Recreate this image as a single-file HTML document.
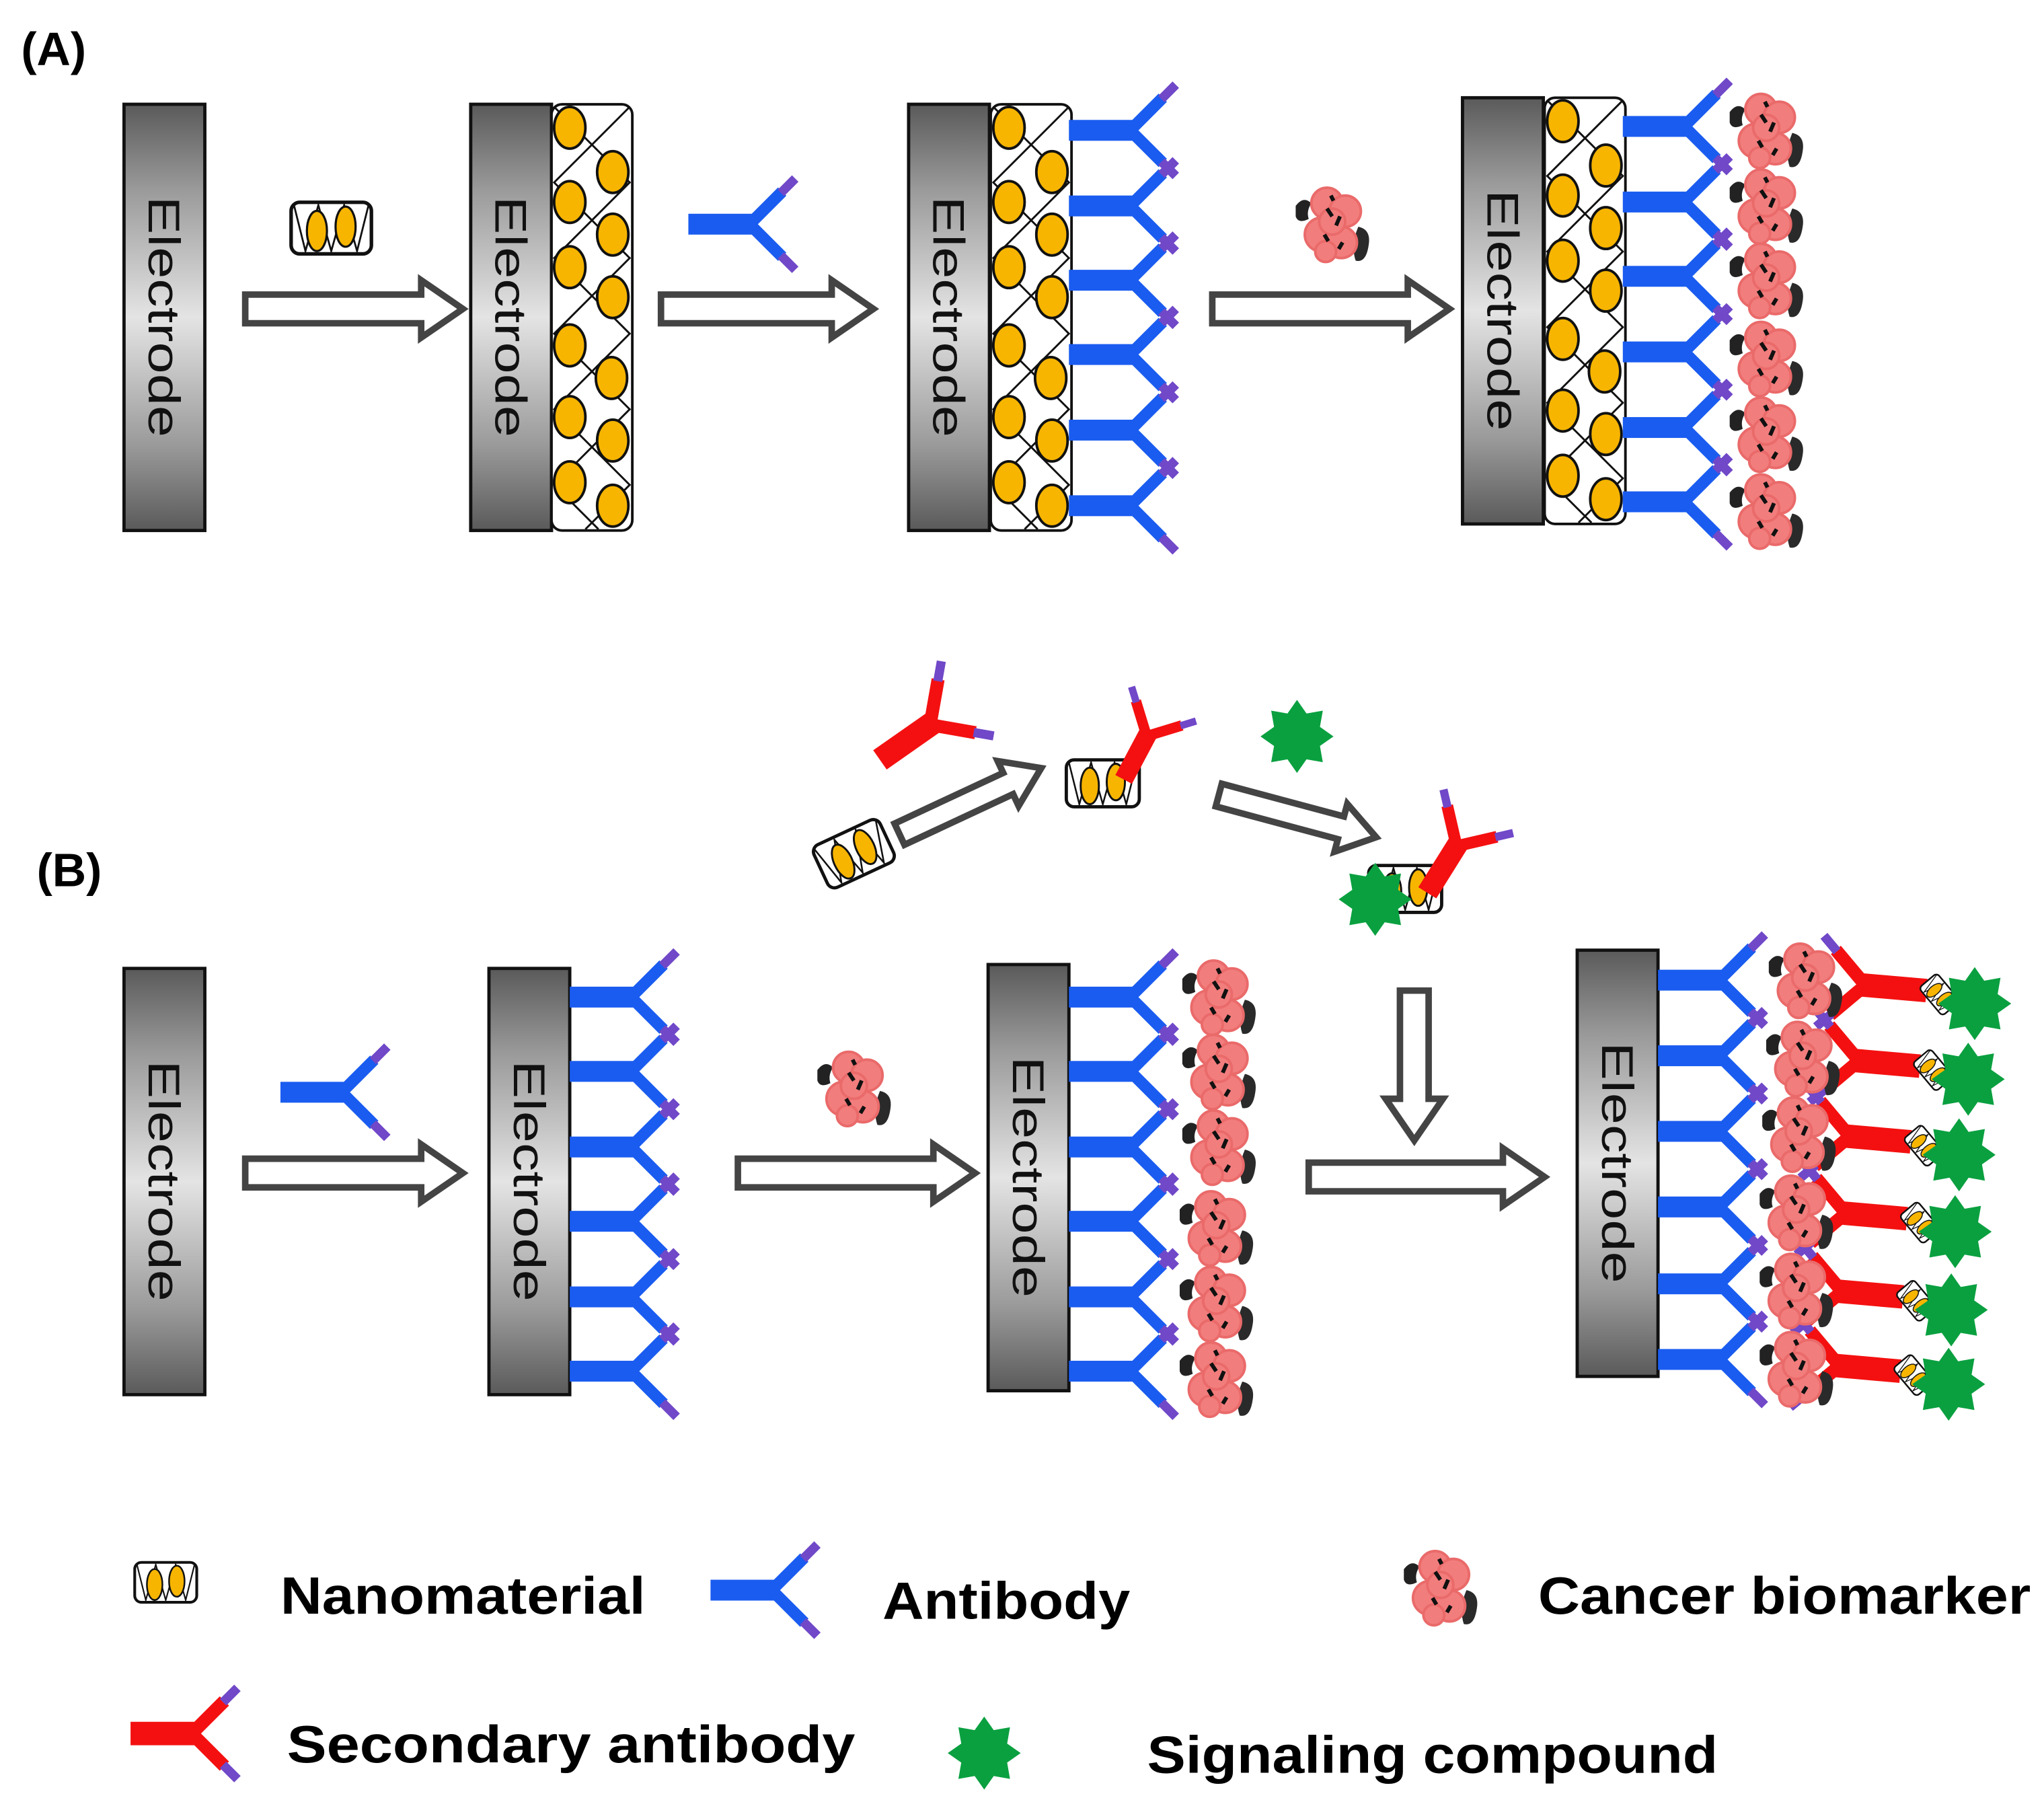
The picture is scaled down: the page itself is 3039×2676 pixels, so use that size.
<!DOCTYPE html>
<html><head><meta charset="utf-8"><style>html,body{margin:0;padding:0;background:#fff}svg{display:block}</style></head>
<body>
<svg width="3039" height="2676" viewBox="0 0 1568 1381" xmlns="http://www.w3.org/2000/svg" font-family="'Liberation Sans', Arial, sans-serif">
<defs>
<linearGradient id="eg" x1="0" y1="0" x2="0" y2="1">
<stop offset="0" stop-color="#5a5a5a"/><stop offset="0.2" stop-color="#9a9a9a"/><stop offset="0.5" stop-color="#e4e4e4"/><stop offset="0.8" stop-color="#9a9a9a"/><stop offset="1" stop-color="#5a5a5a"/>
</linearGradient>
<g id="el"><rect x="0" y="0" width="62" height="327" fill="url(#eg)" stroke="#111" stroke-width="2.5"/></g>
<g id="layer">
<rect x="0" y="0" width="62" height="327" rx="8" fill="#fff" stroke="#111" stroke-width="2"/>
<polyline points="2,2 60,60 2,118 60,176 2,234 60,292 26,326" fill="none" stroke="#111" stroke-width="1.5"/>
<polyline points="60,2 2,60 60,118 2,176 60,234 2,292 36,326" fill="none" stroke="#111" stroke-width="1.5"/>
<g fill="#f7b500" stroke="#111" stroke-width="2">
<ellipse cx="14" cy="18" rx="12" ry="16"/><ellipse cx="14" cy="75" rx="12" ry="16"/><ellipse cx="14" cy="125" rx="12" ry="16"/><ellipse cx="14" cy="185" rx="12" ry="16"/><ellipse cx="14" cy="240" rx="12" ry="16"/><ellipse cx="14" cy="290" rx="12" ry="16"/>
<ellipse cx="47" cy="52" rx="12" ry="16"/><ellipse cx="47" cy="100" rx="12" ry="16"/><ellipse cx="47" cy="148" rx="12" ry="16"/><ellipse cx="46" cy="210" rx="12" ry="16"/><ellipse cx="47" cy="258" rx="12" ry="16"/><ellipse cx="47" cy="308" rx="12" ry="16"/>
</g></g>
<g id="abB">
<rect x="0" y="-8" width="50" height="16" fill="#1a5cf0"/>
<path d="M47,0 L72,-25 M47,0 L72,25" stroke="#1a5cf0" stroke-width="9" fill="none"/>
<path d="M71,-24 L82,-35 M71,24 L82,35" stroke="#7048c8" stroke-width="7" fill="none"/>
</g>
<g id="abR">
<rect x="0" y="-9" width="50" height="18" fill="#f41010"/>
<path d="M47,0 L72,-25 M47,0 L72,25" stroke="#f41010" stroke-width="10" fill="none"/>
<path d="M71,-24 L82,-35 M71,24 L82,35" stroke="#7048c8" stroke-width="7" fill="none"/>
</g>
<g id="bm">
<path d="M-28,-14 q6,-8 12,-2 q-4,6 -2,12 q-8,4 -10,-2 z" fill="#222"/>
<path d="M20,2 q10,2 8,14 q-2,14 -10,12 q-4,-12 2,-26 z" fill="#2a2a2a"/>
<g fill="#f27d7d" stroke="#ea6a6a" stroke-width="2">
<circle cx="-4" cy="-16" r="12"/><circle cx="10" cy="-10" r="12"/><circle cx="-8" cy="8" r="13"/><circle cx="7" cy="14" r="12"/><circle cx="0" cy="-2" r="10"/><circle cx="-5" cy="21" r="8"/>
</g>
<path d="M-4,-12 l4,6 M6,-6 l-3,7 M-6,8 l3,5 M8,14 l-3,5 M-1,-22 l2,4" stroke="#111" stroke-width="3"/>
</g>
<g id="star"><polygon points="0,-28 7.3,-17.6 19.8,-19.8 17.6,-7.3 28,0 17.6,7.3 19.8,19.8 7.3,17.6 0,28 -7.3,17.6 -19.8,19.8 -17.6,7.3 -28,0 -17.6,-7.3 -19.8,-19.8 -7.3,-17.6" fill="#0aa040"/></g>
<g id="nano">
<rect x="-28" y="-18" width="56" height="36" rx="6" fill="#fff" stroke="#111" stroke-width="2.5"/>
<polyline points="-26,-16 -18,16 -9,-16 0,16 9,-16 18,16 26,-16" fill="none" stroke="#111" stroke-width="1.3"/>
<ellipse cx="-10" cy="2" rx="7" ry="14" fill="#f7b500" stroke="#111" stroke-width="1.5"/>
<ellipse cx="10" cy="-1" rx="7" ry="14" fill="#f7b500" stroke="#111" stroke-width="1.5"/>
</g>
</defs>

<g fill="#fff" stroke="#444" stroke-width="5" stroke-linejoin="miter">
<path d="M188,226 H323 V215 L355,237 L323,259 V248 H188 Z"/>
<path d="M507,226 H638 V215 L670,237 L638,259 V248 H507 Z"/>
<path d="M930,226 H1080 V215 L1112,237 L1080,259 V248 H930 Z"/>
<path d="M188,889 H323 V878 L355,900 L323,922 V911 H188 Z"/>
<path d="M566,889 H716 V878 L748,900 L716,922 V911 H566 Z"/>
<path d="M1004,892 H1153 V881 L1185,903 L1153,925 V914 H1004 Z"/>
<path d="M1074,760 V843 H1063 L1085,875 L1107,843 H1096 V760 Z"/>
<path transform="translate(690,640) rotate(-25)" d="M0,-9 H92 V-19 L120,0 L92,19 V9 H0 Z"/>
<path transform="translate(935,610) rotate(15)" d="M0,-9 H97 V-19 L125,0 L97,19 V9 H0 Z"/>
</g>

<text x="16" y="50" font-size="36" font-weight="bold">(A)</text>
<text x="28" y="680" font-size="36" font-weight="bold">(B)</text>

<!-- electrodes -->
<use href="#el" x="95" y="80"/>
<use href="#el" x="361" y="80"/>
<use href="#layer" x="423" y="80"/>
<use href="#el" x="697" y="80"/>
<use href="#layer" x="760" y="80"/>
<use href="#el" x="1122" y="75"/>
<use href="#layer" x="1185" y="75"/>
<use href="#el" x="95" y="743"/>
<use href="#el" x="375" y="743"/>
<use href="#el" x="758" y="740"/>
<use href="#el" x="1210" y="729"/>
<g font-size="34" fill="#111">
<text transform="translate(114,243) rotate(90)" text-anchor="middle" textLength="185" lengthAdjust="spacingAndGlyphs">Electrode</text>
<text transform="translate(380,243) rotate(90)" text-anchor="middle" textLength="185" lengthAdjust="spacingAndGlyphs">Electrode</text>
<text transform="translate(716,243) rotate(90)" text-anchor="middle" textLength="185" lengthAdjust="spacingAndGlyphs">Electrode</text>
<text transform="translate(1141,238) rotate(90)" text-anchor="middle" textLength="185" lengthAdjust="spacingAndGlyphs">Electrode</text>
<text transform="translate(114,906) rotate(90)" text-anchor="middle" textLength="185" lengthAdjust="spacingAndGlyphs">Electrode</text>
<text transform="translate(394,906) rotate(90)" text-anchor="middle" textLength="185" lengthAdjust="spacingAndGlyphs">Electrode</text>
<text transform="translate(777,903) rotate(90)" text-anchor="middle" textLength="185" lengthAdjust="spacingAndGlyphs">Electrode</text>
<text transform="translate(1229,892) rotate(90)" text-anchor="middle" textLength="185" lengthAdjust="spacingAndGlyphs">Electrode</text>
</g>

<!-- Panel A -->
<g transform="translate(254,175) scale(1.1)"><use href="#nano"/></g>
<use href="#abB" x="528" y="172"/>
<g>
<use href="#abB" x="820" y="100"/><use href="#abB" x="820" y="158"/><use href="#abB" x="820" y="215"/><use href="#abB" x="820" y="272"/><use href="#abB" x="820" y="330"/><use href="#abB" x="820" y="388"/>
</g>
<use href="#bm" x="1022" y="172"/>
<g>
<use href="#abB" x="1245" y="97"/><use href="#abB" x="1245" y="155"/><use href="#abB" x="1245" y="212"/><use href="#abB" x="1245" y="270"/><use href="#abB" x="1245" y="328"/><use href="#abB" x="1245" y="385"/>
<use href="#bm" x="1355" y="100"/><use href="#bm" x="1355" y="158"/><use href="#bm" x="1355" y="215"/><use href="#bm" x="1355" y="275"/><use href="#bm" x="1355" y="333"/><use href="#bm" x="1355" y="392"/>
</g>

<!-- Panel B -->
<use href="#abB" x="215" y="838"/>
<g>
<use href="#abB" x="437" y="765"/><use href="#abB" x="437" y="822"/><use href="#abB" x="437" y="880"/><use href="#abB" x="437" y="937"/><use href="#abB" x="437" y="995"/><use href="#abB" x="437" y="1052"/>
</g>
<use href="#bm" x="655" y="835"/>
<g>
<use href="#abB" x="820" y="765"/><use href="#abB" x="820" y="822"/><use href="#abB" x="820" y="880"/><use href="#abB" x="820" y="937"/><use href="#abB" x="820" y="995"/><use href="#abB" x="820" y="1052"/>
<use href="#bm" x="935" y="765"/><use href="#bm" x="935" y="822"/><use href="#bm" x="935" y="880"/><use href="#bm" x="933" y="942"/><use href="#bm" x="933" y="1000"/><use href="#bm" x="933" y="1058"/>
</g>
<g>
<use href="#abB" x="1272" y="752"/><use href="#abB" x="1272" y="810"/><use href="#abB" x="1272" y="868"/><use href="#abB" x="1272" y="926"/><use href="#abB" x="1272" y="985"/><use href="#abB" x="1272" y="1043"/>
</g>
<g id="redrow">
<g transform="translate(1478,760) rotate(185) "><use href="#abR"/></g>
<g transform="translate(1488,763) rotate(50)"><use href="#nano" transform="scale(0.5)"/></g>
<use href="#star" x="1515" y="770"/>
</g>
<use href="#redrow" transform="translate(-5,58)"/>
<use href="#redrow" transform="translate(-12,116)"/>
<use href="#redrow" transform="translate(-15,175)"/>
<use href="#redrow" transform="translate(-18,235)"/>
<use href="#redrow" transform="translate(-20,292)"/>
<g>
<use href="#bm" x="1385" y="752"/><use href="#bm" x="1383" y="812"/><use href="#bm" x="1380" y="870"/><use href="#bm" x="1378" y="930"/><use href="#bm" x="1378" y="990"/><use href="#bm" x="1378" y="1050"/>
</g>

<!-- top row B -->
<g transform="translate(675,583) rotate(-35)"><use href="#abR"/></g>
<g transform="translate(655,655) rotate(-25)"><use href="#nano"/></g>
<use href="#nano" x="846" y="601"/>
<g transform="translate(862,598) rotate(-62) scale(0.8)"><use href="#abR"/></g>
<use href="#star" x="995" y="565"/>
<use href="#nano" x="1078" y="682"/>
<use href="#star" x="1055" y="690"/>
<g transform="translate(1095,685) rotate(-58) scale(0.9)"><use href="#abR"/></g>

<!-- Legend -->
<g transform="translate(127,1214) scale(0.85)"><use href="#nano"/></g>
<text x="215" y="1238" font-size="40" font-weight="bold" textLength="280" lengthAdjust="spacingAndGlyphs">Nanomaterial</text>
<use href="#abB" x="545" y="1220"/>
<text x="677" y="1242" font-size="40" font-weight="bold" textLength="190" lengthAdjust="spacingAndGlyphs">Antibody</text>
<use href="#bm" x="1105" y="1218"/>
<text x="1180" y="1238" font-size="40" font-weight="bold" textLength="378" lengthAdjust="spacingAndGlyphs">Cancer biomarker</text>
<use href="#abR" x="100" y="1330"/>
<text x="220" y="1352" font-size="40" font-weight="bold" textLength="436" lengthAdjust="spacingAndGlyphs">Secondary  antibody</text>
<use href="#star" x="755" y="1345"/>
<text x="880" y="1360" font-size="40" font-weight="bold" textLength="438" lengthAdjust="spacingAndGlyphs">Signaling compound</text>
</svg>
</body></html>
